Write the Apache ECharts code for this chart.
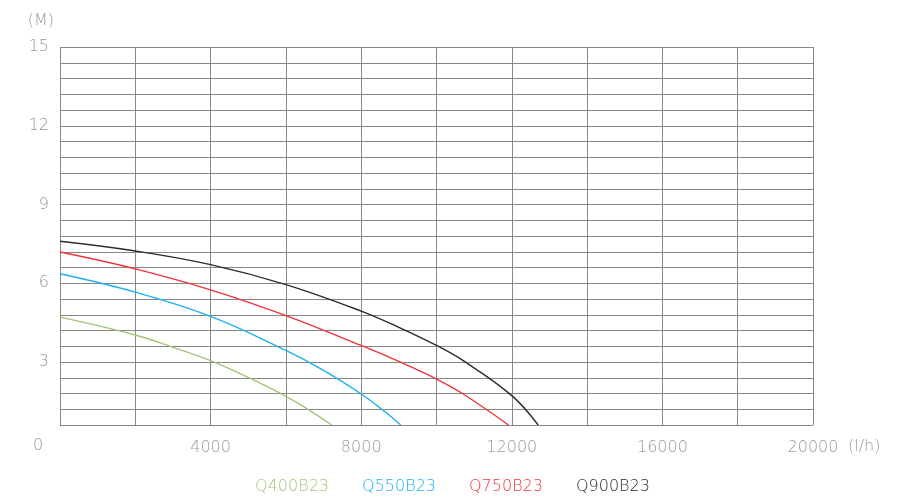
<!DOCTYPE html>
<html>
<head>
<meta charset="utf-8">
<script src="https://cdn.jsdelivr.net/npm/echarts@6/dist/echarts.min.js"></script>
<style>html,body{margin:0;padding:0;background:#fff;}#c{width:900px;height:500px;}</style>
</head>
<body>
<div id="c"></div>
<script>
// ---- data ----
const seriesNames = ['Q400B23', 'Q550B23', 'Q750B23', 'Q900B23'];
const flowQ400 = [0, 2000, 3000, 4000, 5000, 6000, 6640, 7215];
const headQ400 = [4.71, 4.03, 3.56, 3.05, 2.41, 1.69, 1.15, 0.60];
const flowQ550 = [0, 2000, 4000, 6000, 7000, 8000, 8590, 9050];
const headQ550 = [6.36, 5.66, 4.74, 3.44, 2.68, 1.78, 1.15, 0.60];
const flowQ750 = [0, 2000, 4000, 6000, 8000, 9000, 10000, 10710, 11910];
const headQ750 = [7.19, 6.55, 5.75, 4.77, 3.63, 3.02, 2.35, 1.78, 0.60];
const flowQ900 = [0, 2000, 4000, 6000, 8000, 9000, 10000, 10710, 12000, 12700];
const headQ900 = [7.60, 7.23, 6.71, 5.95, 4.94, 4.32, 3.63, 3.05, 1.72, 0.60];
const xTickLabels = [4000, 8000, 12000, 16000, 20000];
const yTickLabels = [3, 6, 9, 12, 15];

const colors = ['#a3c47a', '#1db0f0', '#f2323a', '#2b2b2b'];
const flows = [flowQ400, flowQ550, flowQ750, flowQ900];
const heads = [headQ400, headQ550, headQ750, headQ900];
const FONT = '"DejaVu Sans", sans-serif';

function pairs(xs, ys) { return xs.map((x, i) => [x, ys[i]]); }
function near(v, list) { return list.some(t => Math.abs(v - t) < 1e-6); }

const chart = echarts.init(document.getElementById('c'), null, {renderer: 'canvas'});
chart.setOption({
  animation: false,
  backgroundColor: '#ffffff',
  grid: {left: 60, right: 87, top: 47, bottom: 75, containLabel: false},
  xAxis: {
    type: 'value', min: 0, max: 20000, interval: 2000,
    axisLine: {show: false}, axisTick: {show: false},
    splitLine: {show: true, lineStyle: {color: '#878787', width: 1}},
    axisLabel: {
      color: '#9a9a9a', fontFamily: FONT, fontSize: 16, fontWeight: 200, margin: 15,
      formatter: v => near(v, xTickLabels) ? String(v) : ''
    }
  },
  yAxis: {
    type: 'value', min: 0.6, max: 15, interval: 0.6,
    name: '(M)', nameLocation: 'end', nameGap: 18,
    nameTextStyle: {color: '#9a9a9a', fontFamily: FONT, fontSize: 16, fontWeight: 200, align: 'right', padding: [0, 6, 0, 0]},
    axisLine: {show: false}, axisTick: {show: false},
    splitLine: {show: true, lineStyle: {color: '#878787', width: 1}},
    axisLabel: {
      color: '#8d97a6', fontFamily: FONT, fontSize: 16, fontWeight: 200, margin: 11,
      formatter: v => near(v, yTickLabels) ? String(Math.round(v)) : ''
    }
  },
  legend: {
    top: 474, left: 'center',
    itemWidth: 0, itemHeight: 0, itemGap: 28,
    textStyle: {fontFamily: FONT, fontSize: 16, fontWeight: 200},
    data: seriesNames.map((n, i) => ({name: n, icon: 'rect', textStyle: {color: colors[i]}})),
    selectedMode: false
  },
  graphic: [
    {type: 'text', left: 33, top: 438, style: {text: '0', fill: '#8d97a6', font: '200 16px ' + FONT}},
    {type: 'text', left: 848, top: 439, style: {text: '(l/h)', fill: '#9a9a9a', font: '200 16px ' + FONT}}
  ],
  series: seriesNames.map((n, i) => ({
    name: n, type: 'line', smooth: 0.4, showSymbol: false, clip: true,
    lineStyle: {color: colors[i], width: 1.4},
    itemStyle: {color: colors[i]},
    data: pairs(flows[i], heads[i])
  }))
});
</script>
</body>
</html>
